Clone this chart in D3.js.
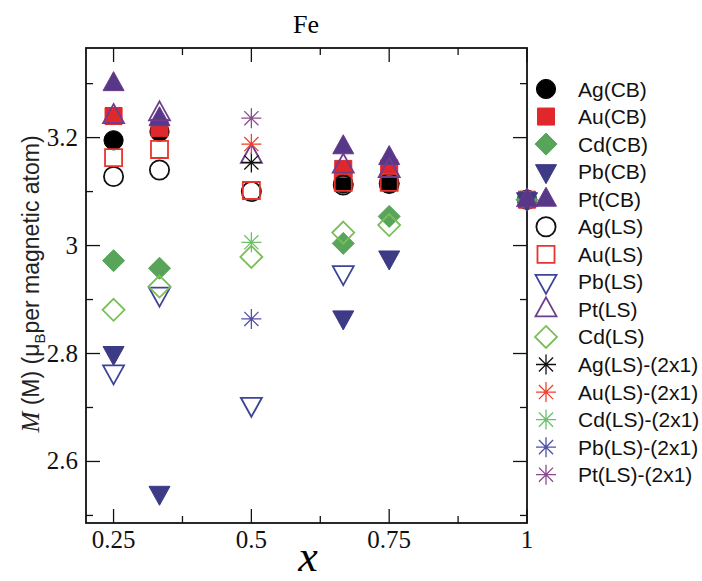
<!DOCTYPE html>
<html>
<head>
<meta charset="utf-8">
<script src="https://cdn.jsdelivr.net/npm/d3@7"></script>
<style>
  body { margin: 0; background: #fff; }
  svg { display: block; }
  .serif { font-family: "Liberation Serif", "Times New Roman", Times, serif; }
  .sans { font-family: "Liberation Sans", Arial, Helvetica, sans-serif; }
  .tick-label { font-size: 25px; fill: #111; }
  .legend-label { font-size: 21px; fill: #111; }
</style>
</head>
<body>
<div id="chart"></div>
<script>
// --- data ---
const xValues = [0.25, 1 / 3, 0.5, 2 / 3, 0.75, 1];

const agCB = [3.195, 3.211, null, 3.115, 3.115, 3.085];
const auCB = [3.240, 3.218, null, 3.142, 3.143, 3.085];
const cdCB = [2.972, 2.958, null, 3.004, 3.054, 3.085];
const pbCB = [2.800, 2.541, null, 2.866, 2.977, 3.085];
const ptCB = [3.300, 3.235, null, 3.183, 3.163, 3.085];
const agLS = [3.128, 3.140, 3.100, 3.112, 3.115, null];
const auLS = [3.163, 3.178, 3.102, 3.117, 3.117, null];
const pbLS = [2.765, 2.909, 2.705, 2.949, null, null];
const ptLS = [3.240, 3.245, 3.166, 3.148, 3.140, null];
const cdLS = [2.881, 2.924, 2.979, 3.024, 3.038, null];
const ag2x1 = [null, null, 3.154, null, null, null];
const au2x1 = [null, null, 3.188, null, null, null];
const cd2x1 = [null, null, 3.006, null, null, null];
const pb2x1 = [null, null, 2.864, null, null, null];
const pt2x1 = [null, null, 3.236, null, null, null];

const seriesNames = ["Ag(CB)", "Au(CB)", "Cd(CB)", "Pb(CB)", "Pt(CB)",
  "Ag(LS)", "Au(LS)", "Pb(LS)", "Pt(LS)", "Cd(LS)",
  "Ag(LS)-(2x1)", "Au(LS)-(2x1)", "Cd(LS)-(2x1)", "Pb(LS)-(2x1)", "Pt(LS)-(2x1)"];
const seriesValues = [agCB, auCB, cdCB, pbCB, ptCB, agLS, auLS, pbLS, ptLS, cdLS,
  ag2x1, au2x1, cd2x1, pb2x1, pt2x1];

const xMajorTicks = [0.25, 0.5, 0.75, 1];
const xMinorTicks = [0.375, 0.625, 0.875];
const yMajorTicks = [2.6, 2.8, 3.0, 3.2];
const yMinorTicks = [2.5, 2.7, 2.9, 3.1, 3.3];

// --- marker styles ---
const styles = [
  { shape: "circle", fill: "#000", stroke: "#000" },
  { shape: "square", fill: "#e0282c", stroke: "#e0282c" },
  { shape: "diamond", fill: "#58a45a", stroke: "#58a45a" },
  { shape: "tridown", fill: "#3d3a86", stroke: "#3d3a86" },
  { shape: "triup", fill: "#573788", stroke: "#6a3a8a" },
  { shape: "circle", fill: "none", stroke: "#111" },
  { shape: "square", fill: "none", stroke: "#e8342e" },
  { shape: "tridown", fill: "none", stroke: "#3d4596" },
  { shape: "triup", fill: "none", stroke: "#6e3d8c" },
  { shape: "diamond", fill: "none", stroke: "#78bf55" },
  { shape: "star", fill: "none", stroke: "#111" },
  { shape: "star", fill: "none", stroke: "#f0402e" },
  { shape: "star", fill: "none", stroke: "#6cc06a" },
  { shape: "star", fill: "none", stroke: "#5050a8" },
  { shape: "star", fill: "none", stroke: "#8a4c8c" }
];

const width = 702, height = 581;
const plot = { left: 86, right: 527, top: 48, bottom: 523 };

const svg = d3.select("#chart").append("svg")
  .attr("width", width)
  .attr("height", height);

const x = d3.scaleLinear().domain([0.2, 1]).range([plot.left, plot.right]);
const y = d3.scaleLinear().domain([2.486, 3.366]).range([plot.bottom, plot.top]);

function shapePath(shape) {
  switch (shape) {
    case "circle": return d3.symbol(d3.symbolCircle, 290)();
    case "square": return d3.symbol(d3.symbolSquare, 290)();
    case "diamond": return "M0,-11L11,0L0,11L-11,0Z";
    case "triup": return "M0,-12L10.5,7L-10.5,7Z";
    case "tridown": return "M0,12L10.5,-7L-10.5,-7Z";
    case "star": {
      const r = 10, d = r * Math.SQRT1_2;
      return `M${-r},0L${r},0M0,${-r}L0,${r}M${-d},${-d}L${d},${d}M${-d},${d}L${d},${-d}`;
    }
  }
}

function drawMarker(sel, st) {
  sel.append("path")
    .attr("d", shapePath(st.shape))
    .attr("fill", st.fill)
    .attr("stroke", st.stroke)
    .attr("stroke-width", st.fill === "none" ? (st.shape === "star" ? 1.3 : 1.8) : 1);
}

// --- ticks (inward, on all four sides) ---
const axes = svg.append("g").attr("stroke", "#111").attr("stroke-width", 1.3);
[[xMajorTicks, 14], [xMinorTicks, 7]].forEach(([ticks, len]) => {
  ticks.forEach(t => {
    axes.append("line").attr("x1", x(t)).attr("x2", x(t)).attr("y1", plot.bottom).attr("y2", plot.bottom - len);
    axes.append("line").attr("x1", x(t)).attr("x2", x(t)).attr("y1", plot.top).attr("y2", plot.top + len);
  });
});
[[yMajorTicks, 14], [yMinorTicks, 7]].forEach(([ticks, len]) => {
  ticks.forEach(t => {
    axes.append("line").attr("y1", y(t)).attr("y2", y(t)).attr("x1", plot.left).attr("x2", plot.left + len);
    axes.append("line").attr("y1", y(t)).attr("y2", y(t)).attr("x1", plot.right).attr("x2", plot.right - len);
  });
});
svg.append("rect")
  .attr("x", plot.left).attr("y", plot.top)
  .attr("width", plot.right - plot.left).attr("height", plot.bottom - plot.top)
  .attr("fill", "none").attr("stroke", "#111").attr("stroke-width", 1.8);

// tick labels
svg.selectAll(".xlab").data(xMajorTicks).enter().append("text")
  .attr("class", "tick-label serif")
  .attr("x", d => x(d)).attr("y", 548)
  .attr("text-anchor", "middle")
  .text(d => d3.format("")(d));

svg.selectAll(".ylab").data(yMajorTicks).enter().append("text")
  .attr("class", "tick-label serif")
  .attr("x", plot.left - 8).attr("y", d => y(d) + 8)
  .attr("text-anchor", "end")
  .text(d => d === 3 ? "3" : d3.format(".1f")(d));

// title + axis titles
svg.append("text")
  .attr("class", "serif")
  .attr("x", 306).attr("y", 33)
  .attr("text-anchor", "middle")
  .style("font-size", "26px")
  .text("Fe");

svg.append("text")
  .attr("class", "serif")
  .attr("x", 308).attr("y", 571)
  .attr("text-anchor", "middle")
  .style("font-style", "italic").style("font-size", "44px")
  .text("x");

const yTitle = svg.append("text")
  .attr("class", "sans")
  .attr("transform", "translate(39,284) rotate(-90)")
  .attr("text-anchor", "middle")
  .style("font-size", "23px")
  .attr("fill", "#222");
yTitle.append("tspan").attr("class", "serif").style("font-style", "italic").style("font-size", "25px").text("M");
yTitle.append("tspan").text(" (M) (μ");
yTitle.append("tspan").attr("dy", 6).style("font-size", "15px").text("B");
yTitle.append("tspan").attr("dy", -6).text("per magnetic atom)");

// --- data markers ---
const marks = svg.append("g");
seriesValues.forEach((vals, i) => {
  const pts = xValues.map((xv, j) => ({ x: xv, v: vals[j] })).filter(p => p.v != null);
  pts.forEach(p => {
    const g = marks.append("g").attr("transform", `translate(${x(p.x)},${y(p.v)})`);
    drawMarker(g, styles[i]);
  });
});

// --- legend ---
const legend = svg.append("g");
seriesNames.forEach((name, i) => {
  const row = legend.append("g").attr("transform", `translate(546,${89 + i * 27.55})`);
  drawMarker(row, styles[i]);
  row.append("text").attr("class", "legend-label sans").attr("x", 32).attr("y", 7.5).text(name);
});
</script>
</body>
</html>
